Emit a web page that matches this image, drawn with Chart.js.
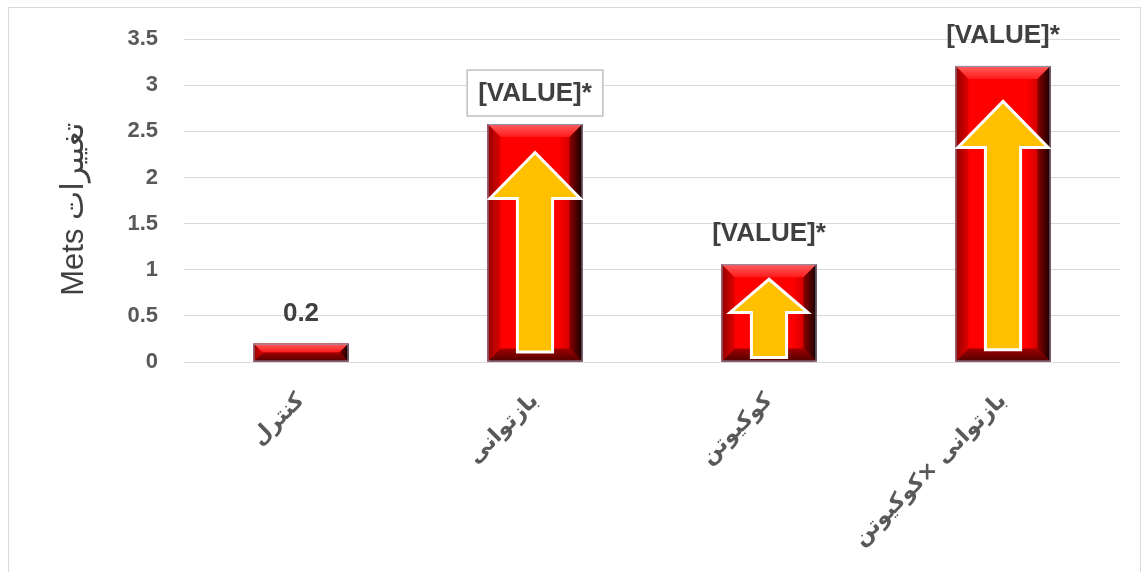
<!DOCTYPE html>
<html>
<head>
<meta charset="utf-8">
<script src="https://cdn.jsdelivr.net/npm/chart.js@4.4.1/dist/chart.umd.min.js"></script>
<style>
html, body { margin: 0; padding: 0; background: #fff; }
</style>
</head>
<body>
<canvas id="metsChart" width="1144" height="572"></canvas>
<script>
// data
const categories = ['کنترل', 'بازتوانی', 'کوکیوتن', 'بازتوانی ×کوکیوتن'];
const metsValues = [0.2, 2.58, 1.06, 3.21];
const valueLabels = ['0.2', '[VALUE]*', '[VALUE]*', '[VALUE]*'];
const boxedLabel = [false, true, false, false];
const hasArrow = [false, true, true, true];
const yAxisTitle = 'Mets تغییرات\u00a0\u00a0';

function poly(ctx, pts, fill) {
    ctx.beginPath();
    ctx.moveTo(pts[0][0], pts[0][1]);
    for (let i = 1; i < pts.length; i++) ctx.lineTo(pts[i][0], pts[i][1]);
    ctx.closePath();
    ctx.fillStyle = fill;
    ctx.fill();
}

function drawBevelBar(ctx, l, t, r, b) {
    const w = r - l, h = b - t;
    const bv = Math.min(13, h / 2, w / 2);
    let g = ctx.createLinearGradient(l, 0, r, 0);
    g.addColorStop(0, '#c80000');
    g.addColorStop(0.15, '#ff0000');
    g.addColorStop(0.75, '#ff0000');
    g.addColorStop(1, '#a00000');
    ctx.fillStyle = g;
    ctx.fillRect(l, t, w, h);

    g = ctx.createLinearGradient(0, t, 0, t + bv);
    g.addColorStop(0, '#ff6060');
    g.addColorStop(1, '#ff1a1a');
    poly(ctx, [[l, t], [r, t], [r - bv, t + bv], [l + bv, t + bv]], g);

    g = ctx.createLinearGradient(0, b - bv, 0, b);
    g.addColorStop(0, '#a00000');
    g.addColorStop(1, '#500000');
    poly(ctx, [[l, b], [r, b], [r - bv, b - bv], [l + bv, b - bv]], g);

    g = ctx.createLinearGradient(r - bv - 6, 0, r, 0);
    g.addColorStop(0, '#c00000');
    g.addColorStop(1, '#150000');
    poly(ctx, [[r, t], [r, b], [r - bv, b - bv], [r - bv, t + bv]], g);

    g = ctx.createLinearGradient(l, 0, l + bv, 0);
    g.addColorStop(0, '#900000');
    g.addColorStop(1, '#e00000');
    poly(ctx, [[l, t], [l, b], [l + bv, b - bv], [l + bv, t + bv]], g);

    ctx.strokeStyle = '#8496b0';
    ctx.lineWidth = 1;
    ctx.strokeRect(l + 0.5, t + 0.5, w - 1, h - 1);
}

function drawArrow(ctx, cx, tip, bottom, headW, headH, shaftW) {
    ctx.beginPath();
    ctx.moveTo(cx, tip);
    ctx.lineTo(cx + headW / 2, tip + headH);
    ctx.lineTo(cx + shaftW / 2, tip + headH);
    ctx.lineTo(cx + shaftW / 2, bottom);
    ctx.lineTo(cx - shaftW / 2, bottom);
    ctx.lineTo(cx - shaftW / 2, tip + headH);
    ctx.lineTo(cx - headW / 2, tip + headH);
    ctx.closePath();
    ctx.fillStyle = '#ffc000';
    ctx.fill();
    ctx.strokeStyle = '#ffffff';
    ctx.lineWidth = 3;
    ctx.lineJoin = 'miter';
    ctx.stroke();
}

const frameAndBars = {
    id: 'frameAndBars',
    beforeDraw(chart) {
        const ctx = chart.ctx;
        ctx.save();
        ctx.fillStyle = '#fff';
        ctx.fillRect(0, 0, chart.width, chart.height);
        ctx.strokeStyle = '#d9d9d9';
        ctx.lineWidth = 1;
        ctx.strokeRect(8.5, 7.5, 1132, 580);
        ctx.restore();
    },
    afterDatasetsDraw(chart) {
        const ctx = chart.ctx;
        const meta = chart.getDatasetMeta(0);
        ctx.save();
        meta.data.forEach((bar, i) => {
            const p = bar.getProps(['x', 'y', 'base', 'width'], true);
            const l = p.x - p.width / 2, r = p.x + p.width / 2;
            const t = p.y, b = p.base, h = b - t;
            drawBevelBar(ctx, l, t, r, b);

            if (hasArrow[i]) {
                const s = Math.max(0.7, Math.min(1, h / 135));
                const headH = 46 * s;
                const headW = 0.95 * p.width * (0.5 + 0.5 * s);
                const tip = t + Math.max(15, 0.12 * h);
                const bottom = b - 0.04 * h;
                drawArrow(ctx, p.x, tip, bottom, headW, headH, 0.37 * p.width);
            }

            const cy = t - 31;
            ctx.font = 'bold 26px "Liberation Sans", Arial, sans-serif';
            ctx.textAlign = 'center';
            ctx.textBaseline = 'middle';
            if (boxedLabel[i]) {
                const tw = ctx.measureText(valueLabels[i]).width;
                const bw = tw + 22, bh = 46;
                ctx.fillStyle = '#fff';
                ctx.fillRect(p.x - bw / 2, cy - bh / 2, bw, bh);
                ctx.strokeStyle = '#bfbfbf';
                ctx.lineWidth = 1.5;
                ctx.strokeRect(p.x - bw / 2, cy - bh / 2, bw, bh);
            }
            ctx.fillStyle = '#404040';
            ctx.fillText(valueLabels[i], p.x, cy + 1);
        });
        ctx.restore();
    }
};

const ctx = document.getElementById('metsChart').getContext('2d');
const metsChart = new Chart(ctx, {
    type: 'bar',
    data: {
        labels: categories,
        datasets: [{
            data: metsValues,
            backgroundColor: '#ff0000',
            borderWidth: 0,
            barPercentage: 0.406,
            categoryPercentage: 1
        }]
    },
    options: {
        responsive: false,
        animation: false,
        devicePixelRatio: 1,
        layout: { padding: { left: 10, right: 24, top: 38, bottom: 0 } },
        plugins: {
            legend: { display: false },
            tooltip: { enabled: false }
        },
        scales: {
            x: {
                grid: { display: false, drawTicks: false },
                border: { display: false },
                ticks: {
                    maxRotation: 45,
                    minRotation: 45,
                    padding: 26,
                    color: '#595959',
                    font: { family: '"DejaVu Sans", sans-serif', size: 22, weight: 'bold' }
                },
                afterFit(scale) { scale.height = 210; }
            },
            y: {
                min: 0,
                max: 3.5,
                ticks: {
                    stepSize: 0.5,
                    padding: 26,
                    color: '#595959',
                    font: { family: '"Liberation Sans", Arial, sans-serif', size: 22, weight: 'bold' },
                    callback: (v) => String(v)
                },
                grid: { color: '#d9d9d9', lineWidth: 1, drawTicks: false },
                border: { display: false },
                title: {
                    display: true,
                    text: yAxisTitle,
                    color: '#404040',
                    padding: { top: 46, bottom: 0 },
                    font: { family: '"Liberation Sans", "DejaVu Sans", sans-serif', size: 31 }
                },
                afterFit(scale) { scale.width = 174; }
            }
        }
    },
    plugins: [frameAndBars]
});
</script>
</body>
</html>
